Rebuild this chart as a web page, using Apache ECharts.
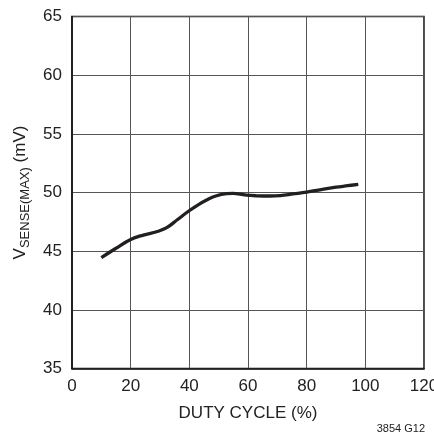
<!DOCTYPE html>
<html><head><meta charset="utf-8">
<script src="https://cdn.jsdelivr.net/npm/echarts@6/dist/echarts.min.js"></script>
<style>html,body{margin:0;padding:0;background:#fff}#c{width:434px;height:436px}</style>
</head><body><div id="c"></div>
<script>
const dutyCycle = [10, 15, 20, 24.3, 29.4, 32.3, 36, 39.7, 43, 45.9, 49, 52.7, 55, 57.3, 59.5, 63, 67.5, 71, 75.4, 80, 85, 90, 94, 97.6];
const vSense   = [44.45, 45.25, 46.0, 46.37, 46.7, 47.0, 47.7, 48.4, 48.95, 49.36, 49.7, 49.9, 49.92, 49.86, 49.77, 49.72, 49.7, 49.74, 49.88, 50.03, 50.25, 50.45, 50.58, 50.7];
const xTicks = [0, 20, 40, 60, 80, 100, 120];
const yTicks = [35, 40, 45, 50, 55, 60, 65];
const FONT = '"Liberation Sans", Arial, sans-serif';
const chart = echarts.init(document.getElementById('c'));
chart.setOption({
  animation: false,
  grid: { left: 72, top: 16.5, width: 352, height: 352, show: true, borderColor: '#111', borderWidth: 1.5, backgroundColor: 'transparent', outerBoundsMode: 'none', containLabel: false },
  xAxis: {
    type: 'value', min: xTicks[0], max: xTicks[xTicks.length-1], interval: 20,
    name: 'DUTY CYCLE (%)', nameLocation: 'middle', nameGap: 36,
    nameTextStyle: { fontFamily: FONT, fontSize: 17, color: '#222' },
    axisLine: { show: true, lineStyle: { color: '#111', width: 1.5 } },
    axisTick: { show: false },
    axisLabel: { fontFamily: FONT, fontSize: 17, color: '#222', margin: 9, hideOverlap: false },
    splitLine: { show: true, lineStyle: { color: '#555', width: 1 } }
  },
  yAxis: {
    type: 'value', min: yTicks[0], max: yTicks[yTicks.length-1], interval: 5,
    name: '{v|V}{s|SENSE(MAX)}{v| (mV)}', nameLocation: 'middle', nameGap: 29, nameRotate: 90,
    nameTextStyle: { lineHeight: 26, rich: {
      v: { fontFamily: FONT, fontSize: 17, color: '#222', verticalAlign: 'top', lineHeight: 20 },
      s: { fontFamily: FONT, fontSize: 13, color: '#222', verticalAlign: 'bottom', lineHeight: 14 }
    } },
    axisLine: { show: true, lineStyle: { color: '#111', width: 1.5 } },
    axisTick: { show: false },
    axisLabel: { fontFamily: FONT, fontSize: 17, color: '#222', margin: 10 },
    splitLine: { show: true, lineStyle: { color: '#555', width: 1 } }
  },
  series: [{
    type: 'line', data: dutyCycle.map((x, i) => [x, vSense[i]]),
    smooth: 0.4, showSymbol: false, symbol: 'none',
    lineStyle: { color: '#231f20', width: 3.3 }
  }],
  graphic: [{
    type: 'text', right: 9, top: 423,
    style: { text: '3854 G12', fontFamily: FONT, fontSize: 11, fill: '#222' }
  }]
});
</script></body></html>
